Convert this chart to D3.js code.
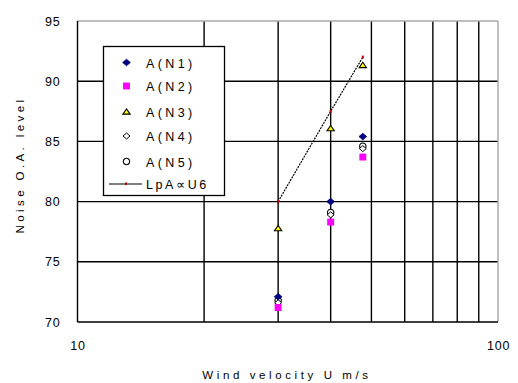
<!DOCTYPE html>
<html>
<head>
<meta charset="utf-8">
<script src="https://cdn.jsdelivr.net/npm/d3@7"></script>
<style>
  html, body { margin: 0; padding: 0; background: #fff; }
  svg { display: block; }
  text { font-family: "Liberation Sans", Arial, sans-serif; fill: #000; }
</style>
</head>
<body>
<svg id="chart" width="518" height="383"></svg>
<script>
// Wind velocity (m/s) at which each measurement was taken
const velocity = [30, 40, 47.7];

// Overall A-weighted noise level for each configuration
const seriesN1 = [72.1, 80.0, 85.4];
const seriesN2 = [71.2, 78.3, 83.7];
const seriesN3 = [77.8, 86.1, 91.35];
const seriesN4 = [71.6, 78.9, 84.4];
const seriesN5 = [71.8, 79.1, 84.6];

// Reference trend LpA ∝ U^6, anchored at 80 dB for 30 m/s
const trendLevel = [80.0, 87.5, 92.0];

const seriesNames = ["A(N1)", "A(N2)", "A(N3)", "A(N4)", "A(N5)"];
const trendName = "LpA∝U6";

const yTicks = [70, 75, 80, 85, 90, 95];
const xGrid = [10, 20, 30, 40, 50, 60, 70, 80, 90, 100];
const xTickLabels = [10, 100];

const svg = d3.select("#chart");
const plot = { left: 77.5, right: 498, top: 21, bottom: 322 };

const x = d3.scaleLog().domain([10, 100]).range([plot.left, plot.right]);
const y = d3.scaleLinear().domain([70, 95]).range([plot.bottom, plot.top]);

// A squat rhombus, slightly wider than tall
const wideDiamond = {
  draw(ctx, size) {
    const r = Math.sqrt(size) / 2;
    ctx.moveTo(0, -r * 0.9);
    ctx.lineTo(r * 1.05, 0);
    ctx.lineTo(0, r * 0.9);
    ctx.lineTo(-r * 1.05, 0);
    ctx.closePath();
  }
};
// A low, broad triangle
const lowTriangle = {
  draw(ctx, size) {
    const r = Math.sqrt(size) / 2;
    ctx.moveTo(0, -r * 0.8);
    ctx.lineTo(r * 1.1, r * 0.8);
    ctx.lineTo(-r * 1.1, r * 0.8);
    ctx.closePath();
  }
};

// Grid
const grid = svg.append("g");
grid.selectAll("line.v").data(xGrid.slice(1, -1)).join("line")
  .attr("x1", d => x(d)).attr("x2", d => x(d))
  .attr("y1", plot.top).attr("y2", plot.bottom)
  .attr("stroke", "#000").attr("stroke-width", 1.4);
grid.selectAll("line.h").data(yTicks.slice(1, -1)).join("line")
  .attr("y1", d => y(d)).attr("y2", d => y(d))
  .attr("x1", plot.left).attr("x2", plot.right)
  .attr("stroke", "#000").attr("stroke-width", 1.4);

// Frame: light top/right, dark left/bottom
svg.append("line").attr("x1", plot.left).attr("x2", plot.right)
  .attr("y1", plot.top).attr("y2", plot.top).attr("stroke", "#a8a8a8").attr("stroke-width", 1.5);
svg.append("line").attr("x1", plot.right).attr("x2", plot.right)
  .attr("y1", plot.top).attr("y2", plot.bottom).attr("stroke", "#a8a8a8").attr("stroke-width", 1.5);
svg.append("line").attr("x1", plot.left).attr("x2", plot.left)
  .attr("y1", plot.top).attr("y2", plot.bottom).attr("stroke", "#000").attr("stroke-width", 1.4);
svg.append("line").attr("x1", plot.left).attr("x2", plot.right)
  .attr("y1", plot.bottom).attr("y2", plot.bottom).attr("stroke", "#000").attr("stroke-width", 1.4);

// Axes (labels only, ticks drawn as grid)
const yAxis = d3.axisLeft(y).tickValues(yTicks).tickSize(0).tickPadding(17);
const gy = svg.append("g").attr("transform", `translate(${plot.left},0)`).call(yAxis);
gy.select(".domain").remove();
gy.selectAll("text").attr("font-size", 12.5).attr("font-family", "Liberation Sans, Arial, sans-serif")
  .attr("letter-spacing", 0.8);

const xAxis = d3.axisBottom(x).tickValues(xTickLabels).tickFormat(d3.format("d")).tickSize(0).tickPadding(19);
const gx = svg.append("g").attr("transform", `translate(0,${plot.bottom})`).call(xAxis);
gx.select(".domain").remove();
gx.selectAll("text").attr("font-size", 12.5).attr("font-family", "Liberation Sans, Arial, sans-serif")
  .attr("letter-spacing", 0.8);

// Axis titles
svg.append("text").attr("x", 287).attr("y", 379).attr("text-anchor", "middle")
  .attr("font-size", 11.5).attr("letter-spacing", 3.6).text("Wind velocity U m/s");
svg.append("text").attr("transform", "translate(24,165) rotate(-90)").attr("text-anchor", "middle")
  .attr("font-size", 11.5).attr("letter-spacing", 3.4).text("Noise O.A. level");

// Trend line
const lineGen = d3.line().x((d, i) => x(velocity[i])).y(d => y(d));
svg.append("path").datum(trendLevel).attr("d", lineGen)
  .attr("fill", "none").attr("stroke", "#000").attr("stroke-width", 1.2)
  .attr("stroke-dasharray", "2,1");
svg.selectAll("rect.trend").data(trendLevel).join("rect")
  .attr("x", (d, i) => x(velocity[i]) - 1).attr("y", d => y(d) - 1.5)
  .attr("width", 2).attr("height", 3).attr("fill", "#c00000");

// Marker shapes
const symbols = [
  { type: wideDiamond, size: 54, fill: "#000080", stroke: "#000080", sw: 0.8 },
  { type: d3.symbolSquare, size: 48, fill: "#ff00ff", stroke: "none", sw: 0 },
  { type: lowTriangle, size: 44, fill: "#ffff00", stroke: "#000", sw: 1.1 },
  { type: wideDiamond, size: 44, fill: "#fff", stroke: "#000", sw: 1 },
  { type: d3.symbolCircle, size: 32, fill: "#fff", stroke: "#000", sw: 1.1 }
];
const allSeries = [seriesN1, seriesN2, seriesN3, seriesN4, seriesN5];
const drawOrder = [4, 3, 1, 0, 2];

drawOrder.forEach(k => {
  const s = symbols[k];
  svg.append("g").selectAll("path").data(allSeries[k]).join("path")
    .attr("transform", (d, i) => `translate(${x(velocity[i])},${y(d)})`)
    .attr("d", d3.symbol().type(s.type).size(s.size))
    .attr("fill", s.fill).attr("stroke", s.stroke).attr("stroke-width", s.sw);
});

// Legend
const leg = svg.append("g");
leg.append("rect").attr("x", 103.5).attr("y", 46.5).attr("width", 121).attr("height", 149)
  .attr("fill", "#fff").attr("stroke", "#000").attr("stroke-width", 1.3);
const rowY = [62.5, 86, 111.5, 136, 161.5];
seriesNames.forEach((name, k) => {
  const s = symbols[k];
  leg.append("path").attr("transform", `translate(126.5,${rowY[k]})`)
    .attr("d", d3.symbol().type(s.type).size(s.size))
    .attr("fill", s.fill).attr("stroke", s.stroke).attr("stroke-width", s.sw);
  leg.append("text").attr("x", 146).attr("y", rowY[k] + 5).attr("font-size", 12.5)
    .attr("letter-spacing", 3.4).text(name);
});
leg.append("line").attr("x1", 109).attr("x2", 142).attr("y1", 184).attr("y2", 184)
  .attr("stroke", "#000").attr("stroke-width", 1.2);
leg.append("rect").attr("x", 125).attr("y", 182.5).attr("width", 2).attr("height", 2.5).attr("fill", "#c00000");
leg.append("text").attr("x", 146).attr("y", 189).attr("font-size", 12.5)
  .attr("letter-spacing", 2.6).text(trendName);
</script>
</body>
</html>
